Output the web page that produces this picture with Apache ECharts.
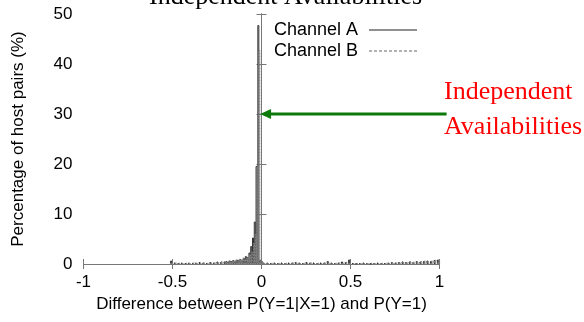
<!DOCTYPE html>
<html>
<head>
<meta charset="utf-8">
<script src="https://cdn.jsdelivr.net/npm/echarts@6/dist/echarts.min.js"></script>
<style>html,body{margin:0;padding:0;background:#fff;}#c{width:584px;height:322px;}</style>
</head>
<body>
<div id="c"></div>
<script>
const binCenters = [-0.505,-0.485,-0.465,-0.445,-0.425,-0.405,-0.385,-0.365,-0.345,-0.325,-0.305,-0.285,-0.265,-0.245,-0.225,-0.205,
  -0.195,-0.185,-0.175,-0.165,-0.155,-0.145,-0.135,-0.125,-0.115,-0.105,-0.095,-0.085,-0.075,-0.065,-0.055,-0.045,-0.035,-0.025,-0.015,-0.005,0.005,0.015,
  0.035,0.055,0.075,0.095,0.115,0.135,0.155,0.175,0.195,0.215,0.235,0.255,0.275,0.295,0.315,0.335,0.355,0.375,0.395,0.415,0.435,0.455,0.475,0.495,
  0.515,0.535,0.555,0.575,0.595,0.615,0.635,0.655,0.675,0.695,0.715,0.735,0.755,0.775,0.795,0.815,0.835,0.855,0.875,0.895,0.915,0.935,0.955,0.975,0.995];
const channelA = [0.7,0.3,0.2,0.3,0.2,0.3,0.2,0.3,0.4,0.3,0.2,0.4,0.3,0.5,0.4,0.5,
  0.6,0.5,0.7,0.6,0.8,0.7,0.9,0.8,1.0,0.9,1.2,1.6,1.4,2.3,3.6,5.3,8.5,19.6,47.8,0.9,0.6,0.3,
  0.3,0.2,0.3,0.2,0.3,0.2,0.3,0.3,0.4,0.3,0.2,0.4,0.3,0.3,0.2,0.3,0.3,0.6,0.3,0.2,0.3,0.5,0.4,0.9,
  0.2,0.1,0.2,0.3,0.2,0.1,0.2,0.3,0.2,0.2,0.3,0.4,0.3,0.4,0.5,0.4,0.5,0.4,0.6,0.5,0.6,0.7,0.6,0.8,0.9];
const channelB = [0.2,0.4,0.3,0.2,0.3,0.2,0.4,0.2,0.3,0.4,0.3,0.3,0.4,0.4,0.6,0.4,
  0.5,0.7,0.5,0.8,0.6,0.9,0.7,1.1,0.8,1.3,1.0,1.3,1.8,1.8,2.5,4.2,6.0,19.5,42.8,0.8,0.5,0.2,
  0.2,0.3,0.2,0.3,0.2,0.3,0.2,0.4,0.3,0.2,0.3,0.3,0.4,0.2,0.3,0.2,0.4,0.3,0.2,0.3,0.4,0.3,0.5,0.3,
  0.2,0.2,0.1,0.2,0.2,0.3,0.1,0.2,0.3,0.3,0.2,0.3,0.4,0.3,0.5,0.4,0.6,0.5,0.5,0.6,0.7,0.6,0.7,0.9,0.8];
const xTicks = [-1, -0.5, 0, 0.5, 1];
const yTicks = [0, 10, 20, 30, 40, 50];
const arrowFrom = [1.04, 30];
const arrowTo = [-0.008, 30];
const titleText = 'Independent Availabilities';
const noteLines = ['Independent', 'Availabilities'];

const chart = echarts.init(document.getElementById('c'), null, {renderer: 'canvas'});
const sans = 'Liberation Sans, Arial, sans-serif';
const serif = 'Liberation Serif, Times New Roman, serif';
const frame = '#777';
const common = {
  axisLine: {show: true, lineStyle: {color: frame, width: 1}},
  axisTick: {show: true, inside: true, length: 5, lineStyle: {color: frame}},
  splitLine: {show: false}
};
const dashIcon = 'path://M0,0h3v1h-3z M5,0h3v1h-3z M10,0h3v1h-3z M15,0h3v1h-3z M20,0h3v1h-3z M25,0h3v1h-3z M30,0h3v1h-3z M35,0h3v1h-3z M40,0h3v1h-3z M45,0h3v1h-3z';
chart.setOption({
  animation: false,
  grid: {left: 83.5, right: 144.5, top: 14, bottom: 58},
  legend: {
    orient: 'vertical', right: 162, top: 16, align: 'right', itemGap: 3,
    itemWidth: 48, itemHeight: 1,
    textStyle: {fontFamily: sans, fontSize: 18, color: '#000', padding: [0, 6, 0, 0]},
    data: [{name: 'Channel A', icon: 'rect', itemStyle: {color: '#222', borderWidth: 0}},
           {name: 'Channel B', icon: dashIcon, itemStyle: {color: '#666', borderWidth: 0}}]
  },
  xAxis: [
    Object.assign({type: 'value', min: -1, max: 1, interval: 0.5, position: 'bottom',
      name: 'Difference between P(Y=1|X=1) and P(Y=1)', nameLocation: 'middle', nameGap: 31,
      nameTextStyle: {fontFamily: sans, fontSize: 17, color: '#000'},
      axisLabel: {fontFamily: sans, fontSize: 17, color: '#000', margin: 10,
        formatter: v => xTicks.includes(v) ? String(v) : ''}}, common),
    Object.assign({type: 'value', min: -1, max: 1, interval: 0.5, position: 'top', axisLabel: {show: false}}, common)
  ],
  yAxis: [
    Object.assign({type: 'value', min: 0, max: 50, interval: 10, position: 'left',
      name: 'Percentage of host pairs (%)', nameLocation: 'middle', nameGap: 57,
      nameTextStyle: {fontFamily: sans, fontSize: 17, color: '#000'},
      axisLabel: {fontFamily: sans, fontSize: 17, color: '#000', margin: 11,
        formatter: v => yTicks.includes(v) ? String(v) : ''}}, common),
    Object.assign({type: 'value', min: 0, max: 50, interval: 10, position: 'right', axisLabel: {show: false}}, common)
  ],
  series: [
    {
      name: 'Channel A', type: 'bar', xAxisIndex: 0, yAxisIndex: 0,
      barWidth: 2, barGap: '-50%',
      itemStyle: {color: '#fff', borderColor: '#333', borderWidth: 1},
      data: binCenters.map((x, i) => [x, channelA[i]])
    },
    {
      name: 'Channel B', type: 'bar', xAxisIndex: 0, yAxisIndex: 0,
      barWidth: 2, barGap: '-50%',
      itemStyle: {color: 'rgba(255,255,255,0)', borderColor: '#888', borderWidth: 1, borderType: [2, 1]},
      data: binCenters.map((x, i) => [x, channelB[i]])
    }
  ]
});

const p0 = chart.convertToPixel({xAxisIndex: 0, yAxisIndex: 0}, arrowFrom);
const p1 = chart.convertToPixel({xAxisIndex: 0, yAxisIndex: 0}, arrowTo);
const headLen = 11, headHalf = 5;
chart.setOption({
  graphic: [
    {type: 'text', left: 288 - 139, top: -16, silent: true,
      style: {text: titleText, font: '26px ' + serif, fill: '#000'}},
    {type: 'text', left: 444, top: 79, silent: true,
      style: {text: noteLines[0], font: '26px ' + serif, fill: '#ff0000'}},
    {type: 'text', left: 444, top: 114, silent: true,
      style: {text: noteLines[1], font: '26px ' + serif, fill: '#ff0000'}},
    {type: 'line', silent: true, z: 100,
      shape: {x1: p0[0], y1: p0[1], x2: p1[0] + headLen - 1, y2: p1[1]},
      style: {stroke: '#0b7a0b', lineWidth: 3}},
    {type: 'polygon', silent: true, z: 100,
      shape: {points: [[p1[0], p1[1]], [p1[0] + headLen, p1[1] - headHalf], [p1[0] + headLen, p1[1] + headHalf]]},
      style: {fill: '#0b7a0b'}}
  ]
});
</script>
</body>
</html>
